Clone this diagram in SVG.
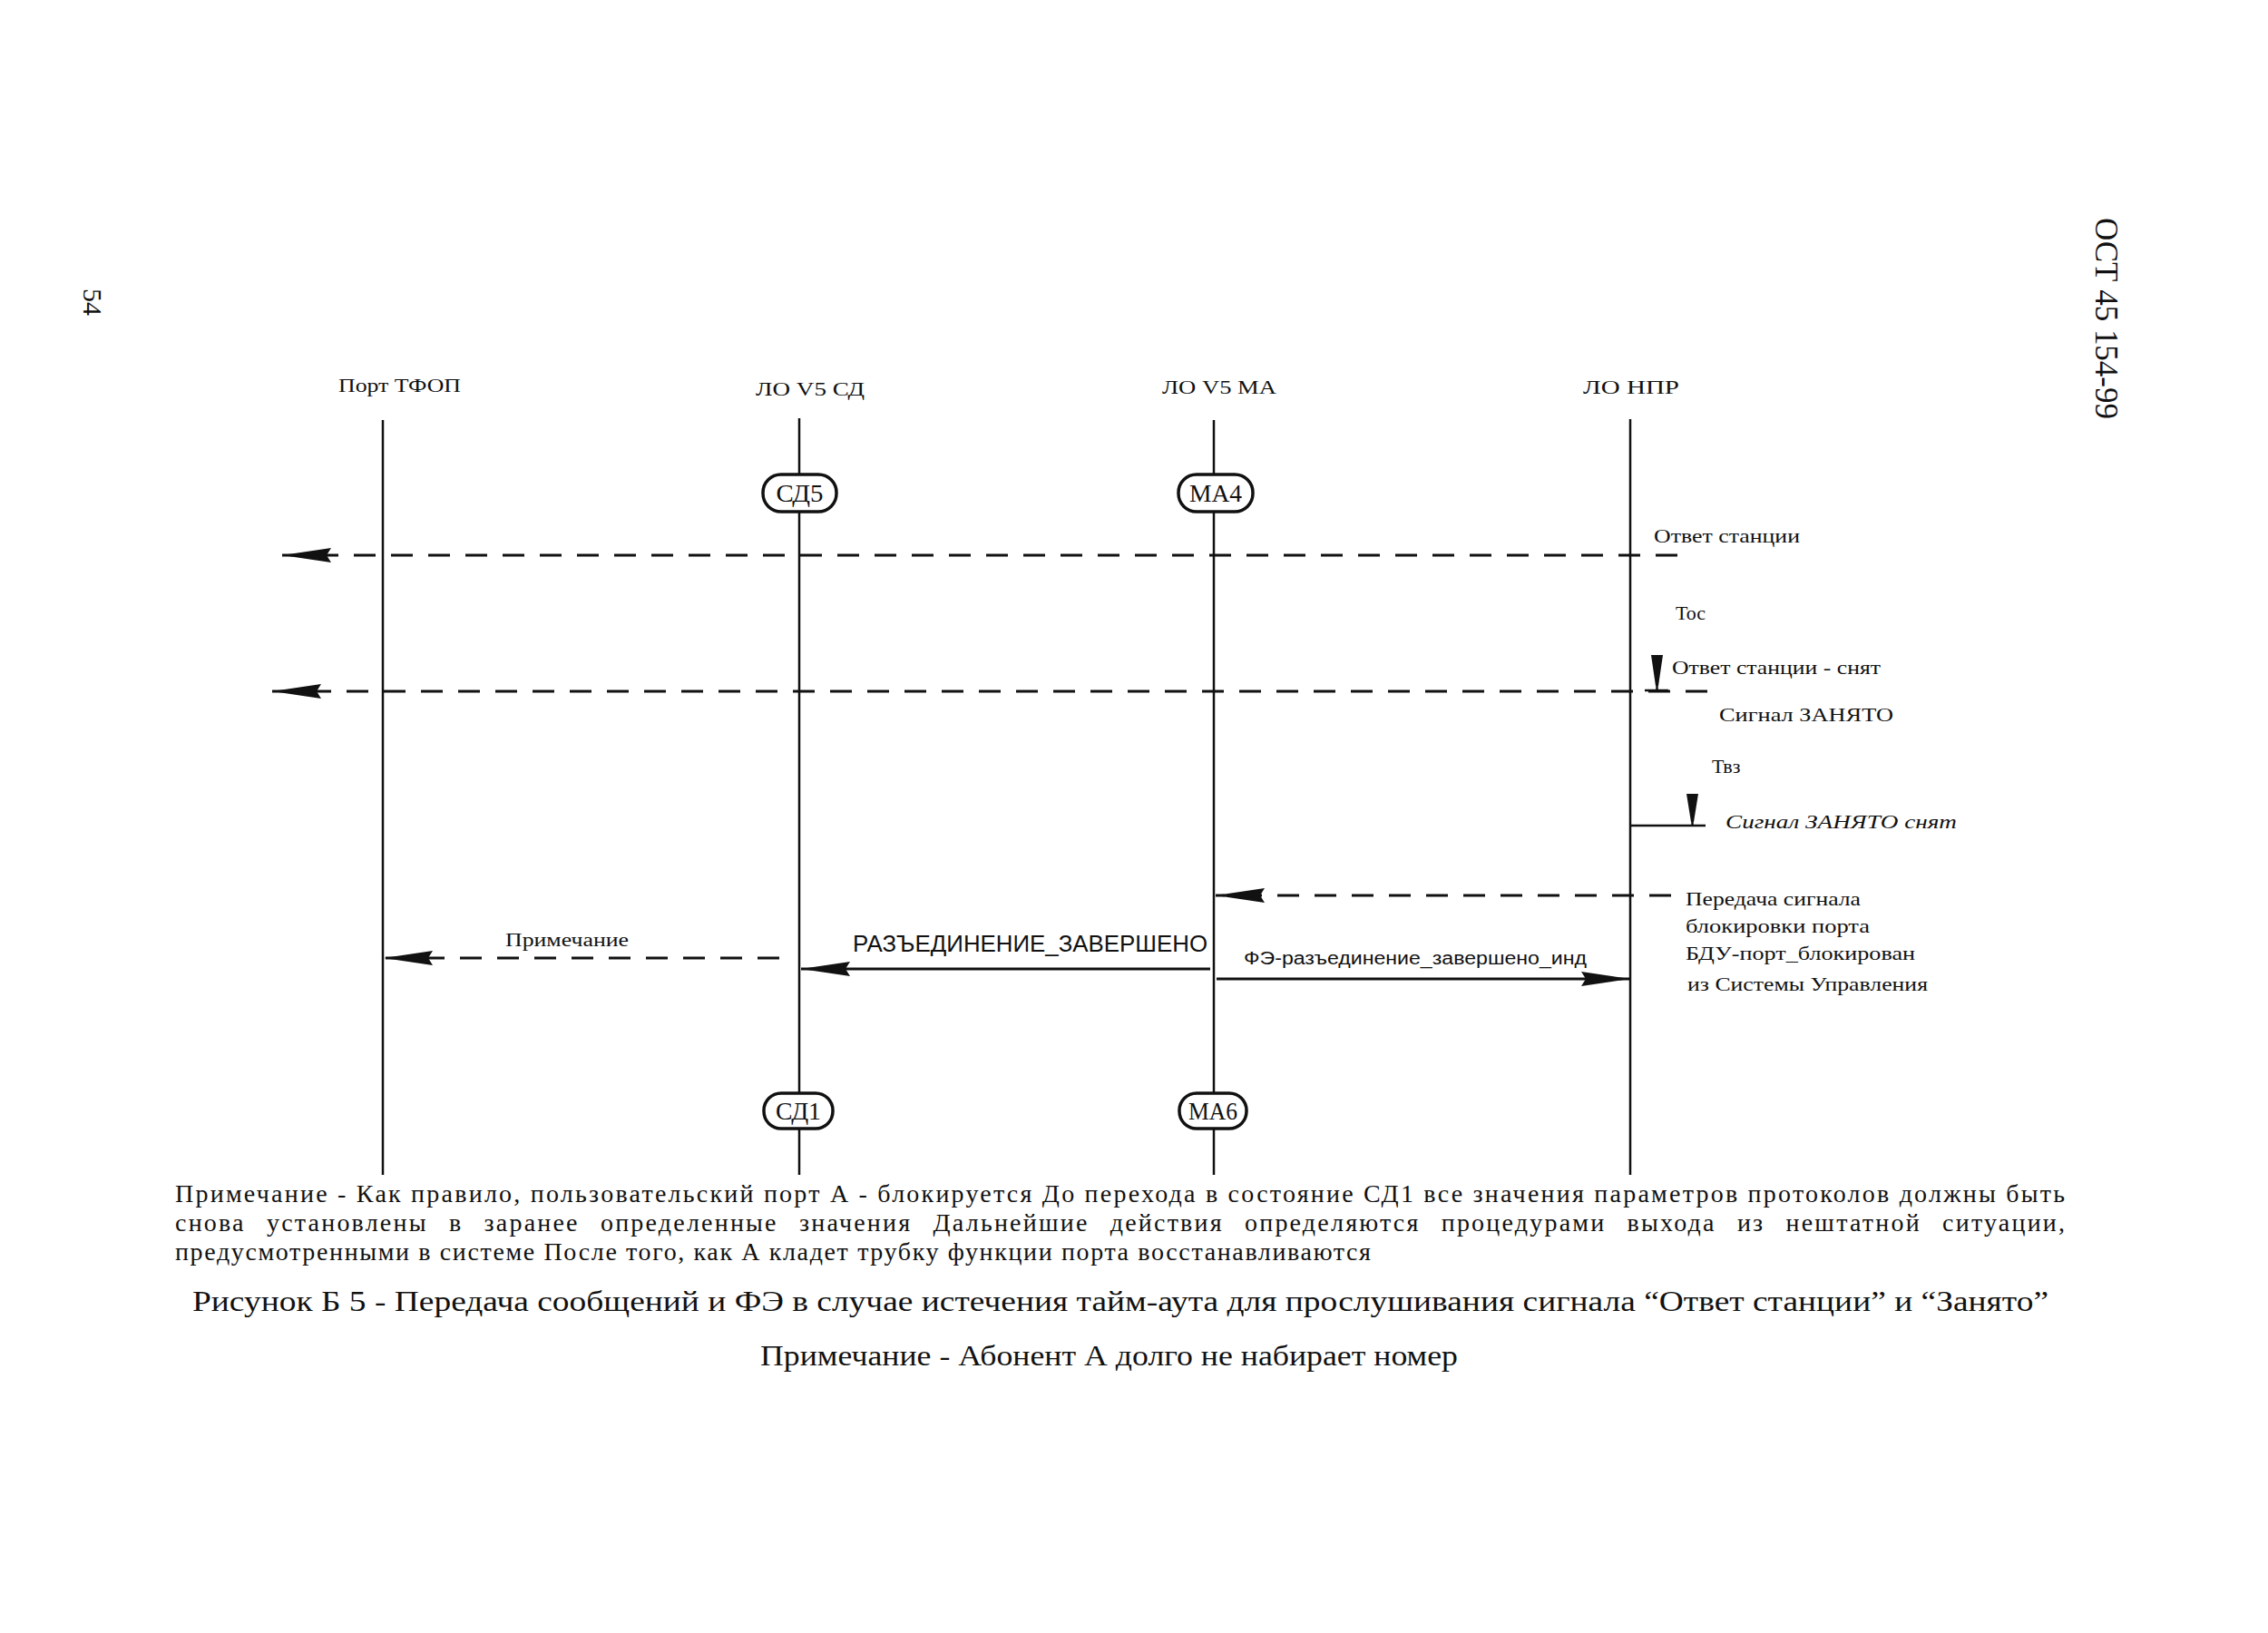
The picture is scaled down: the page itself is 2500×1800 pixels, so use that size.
<svg xmlns="http://www.w3.org/2000/svg" width="2500" height="1800" viewBox="0 0 2500 1800">
<style>
  .t{font-family:"Liberation Serif","Times New Roman",serif;fill:#111;}
  .s{font-family:"Liberation Sans",Arial,sans-serif;fill:#111;}
  .life{stroke:#111;stroke-width:2.5;fill:none;}
  .state{fill:#fff;stroke:#111;stroke-width:3.5;}
  .msg{stroke:#111;stroke-width:3;fill:none;}
  .dash{stroke-dasharray:24 17;}
  .hdr{font-size:21px;}
  .lbl{font-size:22px;}
  .note{font-size:28px;}
  .cap{font-size:32px;}
  .st{font-size:27px;}
</style>
<defs>
  <marker id="ah" viewBox="0 -9 54 18" refX="54" refY="0" markerWidth="54" markerHeight="18" markerUnits="userSpaceOnUse" orient="auto">
    <path d="M0,-8 L54,0 L0,8 L5,0 Z" fill="#111"/>
  </marker>
</defs>
<rect width="2500" height="1800" fill="#fff"/>

<!-- page marks -->
<text class="t" font-size="30" transform="translate(92,318) rotate(90)">54</text>
<text class="t" font-size="35" transform="translate(2310,240) rotate(90)" textLength="222" lengthAdjust="spacingAndGlyphs">ОСТ 45 154-99</text>

<!-- lifelines / nodes -->
<g id="port-tfop">
  <text class="t hdr" x="373" y="432" textLength="135" lengthAdjust="spacingAndGlyphs">Порт ТФОП</text>
  <line class="life" x1="422" y1="463" x2="422" y2="1295"/>
</g>
<g id="lo-v5-sd">
  <text class="t hdr" x="833" y="436" textLength="120" lengthAdjust="spacingAndGlyphs">ЛО V5 СД</text>
  <line class="life" x1="881" y1="461" x2="881" y2="1295"/>
</g>
<g id="lo-v5-ma">
  <text class="t hdr" x="1281" y="434" textLength="126" lengthAdjust="spacingAndGlyphs">ЛО V5 МА</text>
  <line class="life" x1="1338" y1="463" x2="1338" y2="1295"/>
</g>
<g id="lo-npr">
  <text class="t hdr" x="1745" y="434" textLength="106" lengthAdjust="spacingAndGlyphs">ЛО НПР</text>
  <line class="life" x1="1797" y1="462" x2="1797" y2="1295"/>
</g>

<g id="state-sd5">
  <rect class="state" x="841" y="523" width="81" height="41" rx="20"/>
  <text class="t st" x="881.5" y="553" text-anchor="middle" textLength="52" lengthAdjust="spacingAndGlyphs">СД5</text>
</g>
<g id="state-ma4">
  <rect class="state" x="1299" y="523" width="82" height="41" rx="20"/>
  <text class="t st" x="1340" y="553" text-anchor="middle" textLength="58" lengthAdjust="spacingAndGlyphs">МА4</text>
</g>
<g id="state-sd1">
  <rect class="state" x="842" y="1205" width="76" height="39" rx="19"/>
  <text class="t st" x="880" y="1234" text-anchor="middle" textLength="50" lengthAdjust="spacingAndGlyphs">СД1</text>
</g>
<g id="state-ma6">
  <rect class="state" x="1300" y="1205" width="74" height="39" rx="19"/>
  <text class="t st" x="1337" y="1234" text-anchor="middle" textLength="54" lengthAdjust="spacingAndGlyphs">МА6</text>
</g>

<!-- timers -->
<g id="timer-toc">
  <polygon points="1820,722 1833,722 1828,756 1825,756" fill="#111"/>
  <line x1="1826.5" y1="722" x2="1826.5" y2="761" stroke="#111" stroke-width="2.5"/>
  <line x1="1813" y1="761" x2="1839" y2="761" stroke="#111" stroke-width="2.5"/>
</g>
<g id="timer-tvz">
  <polygon points="1859,875 1872,875 1867,906 1864,906" fill="#111"/>
  <line x1="1865.5" y1="875" x2="1865.5" y2="910" stroke="#111" stroke-width="2.5"/>
  <line x1="1797" y1="910" x2="1880" y2="910" stroke="#111" stroke-width="2.5"/>
</g>

<!-- connectors -->
<g id="connectors">
  <line class="msg dash" x1="1849" y1="612" x2="311" y2="612" marker-end="url(#ah)"/>
  <line class="msg dash" x1="1882" y1="762" x2="300" y2="762" marker-end="url(#ah)"/>
  <line class="msg dash" x1="1842" y1="987" x2="1340" y2="987" marker-end="url(#ah)"/>
  <line class="msg" x1="1341" y1="1079" x2="1797" y2="1079" marker-end="url(#ah)"/>
  <line class="msg" x1="1334" y1="1068" x2="883" y2="1068" marker-end="url(#ah)"/>
  <line class="msg dash" x1="859" y1="1056" x2="423" y2="1056" marker-end="url(#ah)"/>
</g>

<!-- labels -->
<g id="labels">
  <text class="t lbl" x="1823" y="598" textLength="161" lengthAdjust="spacingAndGlyphs">Ответ станции</text>
  <text class="t lbl" x="1847" y="683">Тос</text>
  <text class="t lbl" x="1843" y="743" textLength="230" lengthAdjust="spacingAndGlyphs">Ответ станции - снят</text>
  <text class="t lbl" x="1895" y="795" textLength="192" lengthAdjust="spacingAndGlyphs">Сигнал ЗАНЯТО</text>
  <text class="t lbl" x="1887" y="852">Твз</text>
  <text class="t lbl" x="1902" y="913" font-style="italic" textLength="255" lengthAdjust="spacingAndGlyphs">Сигнал ЗАНЯТО  снят</text>
  <text class="t lbl" x="1858" y="998" textLength="193" lengthAdjust="spacingAndGlyphs">Передача сигнала</text>
  <text class="t lbl" x="1858" y="1028" textLength="203" lengthAdjust="spacingAndGlyphs">блокировки порта</text>
  <text class="t lbl" x="1858" y="1058" textLength="253" lengthAdjust="spacingAndGlyphs">БДУ-порт_блокирован</text>
  <text class="t lbl" x="1860" y="1092" textLength="265" lengthAdjust="spacingAndGlyphs">из Системы Управления</text>
  <text class="t" font-size="20" x="557" y="1043" textLength="136" lengthAdjust="spacingAndGlyphs">Примечание</text>
  <text class="s" font-size="26" x="940" y="1049" textLength="391" lengthAdjust="spacingAndGlyphs">РАЗЪЕДИНЕНИЕ_ЗАВЕРШЕНО</text>
  <text class="s" font-size="20" x="1371" y="1063" textLength="378" lengthAdjust="spacingAndGlyphs">ФЭ-разъединение_завершено_инд</text>
</g>

<!-- note and caption -->
<g id="note">
  <text class="t note" x="193" y="1325" textLength="2083" lengthAdjust="spacing">Примечание - Как правило, пользовательский порт А - блокируется  До перехода в состояние СД1 все значения параметров протоколов должны быть</text>
  <text class="t note" x="193" y="1357" textLength="2083" lengthAdjust="spacing" word-spacing="14">снова установлены в заранее определенные значения  Дальнейшие действия определяются процедурами выхода из нештатной ситуации,</text>
  <text class="t note" x="193" y="1389" textLength="1318" lengthAdjust="spacing">предусмотренными в системе  После того, как А кладет трубку функции порта восстанавливаются</text>
</g>
<g id="caption">
  <text class="t cap" x="212" y="1445" textLength="2046" lengthAdjust="spacingAndGlyphs">Рисунок Б 5 - Передача сообщений и ФЭ в случае истечения тайм-аута для прослушивания сигнала “Ответ станции” и “Занято”</text>
  <text class="t cap" x="838" y="1505" textLength="769" lengthAdjust="spacingAndGlyphs">Примечание - Абонент А долго не набирает номер</text>
</g>
</svg>
